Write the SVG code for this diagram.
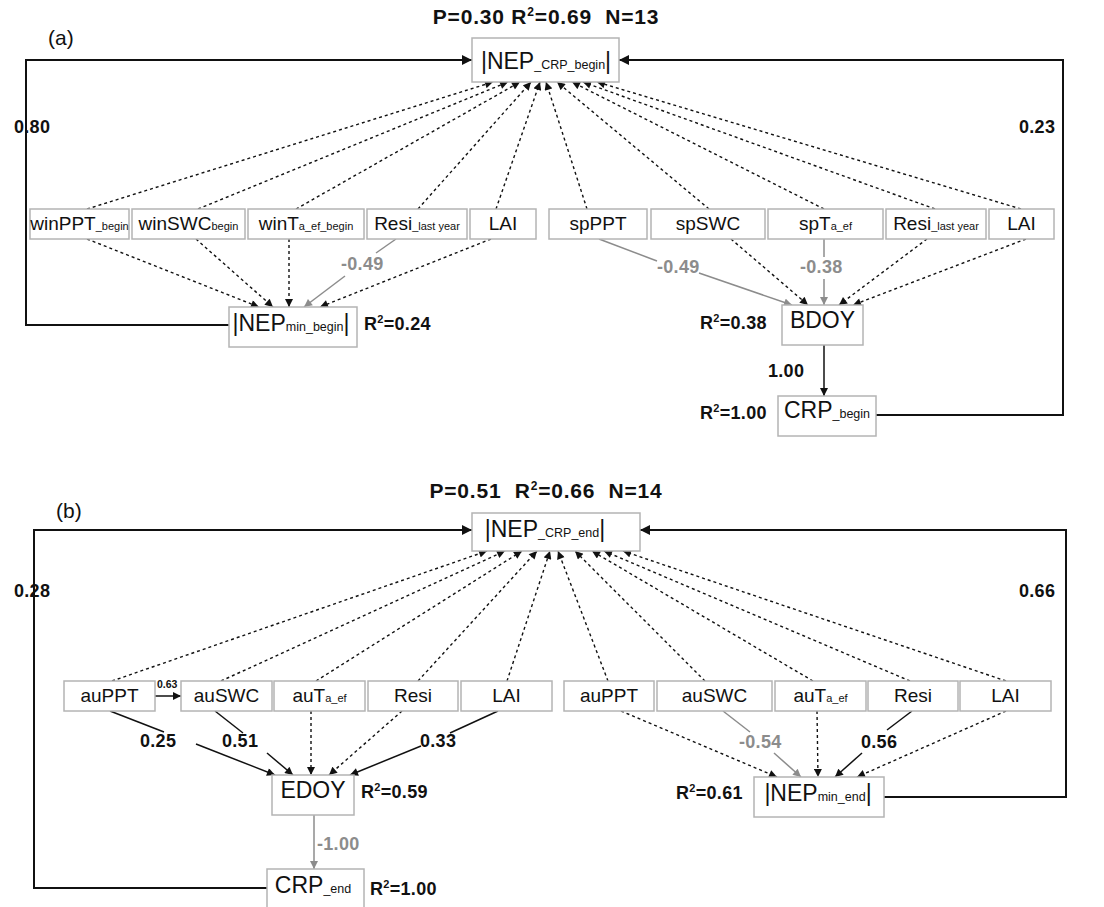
<svg xmlns="http://www.w3.org/2000/svg" width="1104" height="907" viewBox="0 0 1104 907">
<defs>
<style>
text{font-family:"Liberation Sans",Arial,sans-serif;fill:#111}
.box{fill:#fff;stroke:#b4b4b4;stroke-width:1.5}
.bt{font-size:19px}
.big{font-size:23px}
.sub{font-size:11px}
.sub2{font-size:12.5px}
.lbl{font-size:18px;font-weight:bold;letter-spacing:0.3px}
.gl{fill:#8c8c8c}
.title{font-size:21px;font-weight:bold;letter-spacing:0.8px}
.dash{stroke:#111;stroke-width:1.4;stroke-dasharray:3 3;fill:none}
.blk{stroke:#111;stroke-width:1.5;fill:none}
.gry{stroke:#8c8c8c;stroke-width:1.5;fill:none}
.fb{stroke:#111;stroke-width:2;fill:none}
</style>
<marker id="ab" viewBox="0 0 10 10" refX="10" refY="5" markerWidth="9" markerHeight="8" markerUnits="userSpaceOnUse" orient="auto"><path d="M0,0 L10,5 L0,10 z" fill="#111"/></marker>
<marker id="ag" viewBox="0 0 10 10" refX="10" refY="5" markerWidth="10" markerHeight="8" markerUnits="userSpaceOnUse" orient="auto"><path d="M0,0 L10,5 L0,10 z" fill="#8c8c8c"/></marker>
<marker id="af" viewBox="0 0 10 10" refX="10" refY="5" markerWidth="13" markerHeight="10" markerUnits="userSpaceOnUse" orient="auto"><path d="M0,0 L10,5 L0,10 z" fill="#111"/></marker>
</defs>

<!-- ===== Panel (a) ===== -->
<text class="title" x="546" y="24" text-anchor="middle" xml:space="preserve">P=0.30 R<tspan font-size="12" dy="-8">2</tspan><tspan dy="8">=0.69  N=13</tspan></text>
<text x="48" y="45" font-size="21">(a)</text>

<g id="connectors-a">
  <path class="fb" d="M229,325 H26 V60 H472" marker-end="url(#af)"/>
  <path class="fb" d="M876,415 H1063 V60 H619" marker-end="url(#af)"/>
  <line class="dash" x1="87" y1="209" x2="493" y2="82" marker-end="url(#ab)"/>
  <line class="dash" x1="198" y1="209" x2="508" y2="82" marker-end="url(#ab)"/>
  <line class="dash" x1="296" y1="209" x2="520" y2="82" marker-end="url(#ab)"/>
  <line class="dash" x1="418" y1="209" x2="531" y2="82" marker-end="url(#ab)"/>
  <line class="dash" x1="496" y1="209" x2="540" y2="82" marker-end="url(#ab)"/>
  <line class="dash" x1="587" y1="209" x2="546" y2="82" marker-end="url(#ab)"/>
  <line class="dash" x1="709" y1="209" x2="557" y2="82" marker-end="url(#ab)"/>
  <line class="dash" x1="824" y1="209" x2="572" y2="82" marker-end="url(#ab)"/>
  <line class="dash" x1="935" y1="209" x2="583" y2="82" marker-end="url(#ab)"/>
  <line class="dash" x1="1021" y1="209" x2="597" y2="82" marker-end="url(#ab)"/>
  <line class="dash" x1="87" y1="239" x2="259" y2="307" marker-end="url(#ab)"/>
  <line class="dash" x1="196" y1="239" x2="273" y2="307" marker-end="url(#ab)"/>
  <line class="dash" x1="289" y1="239" x2="289" y2="307" marker-end="url(#ab)"/>
  <line class="gry" x1="396" y1="239" x2="376" y2="253"/>
  <line class="gry" x1="345" y1="276" x2="304" y2="307" marker-end="url(#ag)"/>
  <line class="dash" x1="491" y1="239" x2="320" y2="307" marker-end="url(#ab)"/>
  <line class="gry" x1="599" y1="239" x2="657" y2="261"/>
  <line class="gry" x1="699" y1="273" x2="792" y2="305" marker-end="url(#ag)"/>
  <line class="dash" x1="731" y1="239" x2="808" y2="305" marker-end="url(#ab)"/>
  <line class="gry" x1="824" y1="239" x2="824" y2="257"/>
  <line class="gry" x1="824" y1="279" x2="824" y2="305" marker-end="url(#ag)"/>
  <line class="dash" x1="927" y1="239" x2="839" y2="305" marker-end="url(#ab)"/>
  <line class="dash" x1="1026" y1="239" x2="853" y2="305" marker-end="url(#ab)"/>
  <line class="blk" x1="824" y1="345" x2="824" y2="396" marker-end="url(#ab)"/>
  <text class="lbl" x="14" y="133">0.80</text>
  <text class="lbl" x="1019" y="133">0.23</text>
  <text class="lbl gl" x="341" y="270">-0.49</text>
  <text class="lbl gl" x="657" y="273">-0.49</text>
  <text class="lbl gl" x="800" y="273">-0.38</text>
  <text class="lbl" x="768" y="377">1.00</text>
</g>

<g id="nep-crp-begin">
  <rect class="box" x="472" y="38" width="147" height="44"/>
  <text class="big" x="546" y="69" text-anchor="middle">|NEP<tspan class="sub2">_CRP_begin</tspan>|</text>
</g>
<g id="winPPT"><rect class="box" x="30" y="209" width="99" height="30"/><text class="bt" x="79.5" y="230" text-anchor="middle">winPPT<tspan class="sub">_begin</tspan></text></g>
<g id="winSWC"><rect class="box" x="132" y="209" width="113" height="30"/><text class="bt" x="188.5" y="230" text-anchor="middle">winSWC<tspan class="sub">begin</tspan></text></g>
<g id="winT"><rect class="box" x="248" y="209" width="116" height="30"/><text class="bt" x="306" y="230" text-anchor="middle">winT<tspan class="sub">a_ef_begin</tspan></text></g>
<g id="resi-a1"><rect class="box" x="367" y="209" width="100" height="30"/><text class="bt" x="417" y="230" text-anchor="middle">Resi<tspan class="sub">_last year</tspan></text></g>
<g id="lai-a1"><rect class="box" x="470" y="209" width="66" height="30"/><text class="bt" x="503" y="230" text-anchor="middle">LAI</text></g>
<g id="spPPT"><rect class="box" x="549" y="209" width="98" height="30"/><text class="bt" x="598" y="230" text-anchor="middle">spPPT</text></g>
<g id="spSWC"><rect class="box" x="651" y="209" width="114" height="30"/><text class="bt" x="708" y="230" text-anchor="middle">spSWC</text></g>
<g id="spT"><rect class="box" x="768" y="209" width="115" height="30"/><text class="bt" x="825.5" y="230" text-anchor="middle">spT<tspan class="sub">a_ef</tspan></text></g>
<g id="resi-a2"><rect class="box" x="886" y="209" width="100" height="30"/><text class="bt" x="936" y="230" text-anchor="middle">Resi<tspan class="sub">_last year</tspan></text></g>
<g id="lai-a2"><rect class="box" x="989" y="209" width="65" height="30"/><text class="bt" x="1021.5" y="230" text-anchor="middle">LAI</text></g>
<g id="nep-min-begin">
  <rect class="box" x="229" y="307" width="128" height="40"/>
  <text class="big" x="291" y="331" text-anchor="middle">|NEP<tspan class="sub2">min_begin</tspan>|</text>
  <text class="lbl" x="364" y="330">R<tspan font-size="11" dy="-7">2</tspan><tspan dy="7">=0.24</tspan></text>
</g>
<g id="bdoy">
  <rect class="box" x="782" y="305" width="81" height="40"/>
  <text class="big" x="822.5" y="328" text-anchor="middle">BDOY</text>
  <text class="lbl" x="700" y="329">R<tspan font-size="11" dy="-7">2</tspan><tspan dy="7">=0.38</tspan></text>
</g>
<g id="crp-begin">
  <rect class="box" x="778" y="396" width="98" height="40"/>
  <text class="big" x="827" y="418" text-anchor="middle">CRP<tspan class="sub2">_begin</tspan></text>
  <text class="lbl" x="700" y="419">R<tspan font-size="11" dy="-7">2</tspan><tspan dy="7">=1.00</tspan></text>
</g>

<!-- ===== Panel (b) ===== -->
<text class="title" x="546" y="498" text-anchor="middle" xml:space="preserve">P=0.51  R<tspan font-size="12" dy="-8">2</tspan><tspan dy="8">=0.66  N=14</tspan></text>
<text x="56" y="518" font-size="21">(b)</text>

<g id="connectors-b">
  <path class="fb" d="M267,888 H34 V530 H472" marker-end="url(#af)"/>
  <path class="fb" d="M884,797 H1066 V530 H640" marker-end="url(#af)"/>
  <line class="dash" x1="112" y1="681" x2="487" y2="551" marker-end="url(#ab)"/>
  <line class="dash" x1="221" y1="681" x2="505" y2="551" marker-end="url(#ab)"/>
  <line class="dash" x1="316" y1="681" x2="522" y2="551" marker-end="url(#ab)"/>
  <line class="dash" x1="418" y1="681" x2="537" y2="551" marker-end="url(#ab)"/>
  <line class="dash" x1="507" y1="681" x2="550" y2="551" marker-end="url(#ab)"/>
  <line class="dash" x1="608" y1="681" x2="558" y2="551" marker-end="url(#ab)"/>
  <line class="dash" x1="705" y1="681" x2="575" y2="551" marker-end="url(#ab)"/>
  <line class="dash" x1="813" y1="681" x2="592" y2="551" marker-end="url(#ab)"/>
  <line class="dash" x1="910" y1="681" x2="604" y2="551" marker-end="url(#ab)"/>
  <line class="dash" x1="1006" y1="681" x2="623" y2="551" marker-end="url(#ab)"/>
  <line class="blk" x1="155" y1="696" x2="181" y2="696" marker-end="url(#ab)"/>
  <line class="blk" x1="110" y1="711" x2="164" y2="732"/>
  <line class="blk" x1="196" y1="744" x2="275" y2="775" marker-end="url(#ab)"/>
  <line class="blk" x1="215" y1="711" x2="243" y2="733"/>
  <line class="blk" x1="267" y1="753" x2="293" y2="775" marker-end="url(#ab)"/>
  <line class="dash" x1="311" y1="711" x2="311" y2="775" marker-end="url(#ab)"/>
  <line class="dash" x1="402" y1="711" x2="329" y2="775" marker-end="url(#ab)"/>
  <line class="blk" x1="498" y1="711" x2="450" y2="733"/>
  <line class="blk" x1="421" y1="746" x2="350" y2="775" marker-end="url(#ab)"/>
  <line class="gry" x1="314" y1="815" x2="314" y2="869" marker-end="url(#ag)"/>
  <line class="dash" x1="621" y1="711" x2="777" y2="777" marker-end="url(#ab)"/>
  <line class="gry" x1="723" y1="711" x2="750" y2="732"/>
  <line class="gry" x1="774" y1="753" x2="801" y2="777" marker-end="url(#ag)"/>
  <line class="dash" x1="817" y1="711" x2="818" y2="777" marker-end="url(#ab)"/>
  <line class="blk" x1="912" y1="711" x2="887" y2="730"/>
  <line class="blk" x1="862" y1="753" x2="835" y2="777" marker-end="url(#ab)"/>
  <line class="dash" x1="1006" y1="711" x2="857" y2="777" marker-end="url(#ab)"/>
  <text class="lbl" x="14" y="597">0.28</text>
  <text class="lbl" x="1019" y="597">0.66</text>
  <text x="157" y="688" font-size="10.5" font-weight="bold">0.63</text>
  <text class="lbl" x="140" y="747">0.25</text>
  <text class="lbl" x="222" y="747">0.51</text>
  <text class="lbl" x="420" y="747">0.33</text>
  <text class="lbl gl" x="317" y="850">-1.00</text>
  <text class="lbl gl" x="739" y="748">-0.54</text>
  <text class="lbl" x="861" y="748">0.56</text>
</g>

<g id="nep-crp-end">
  <rect class="box" x="472" y="513" width="168" height="38"/>
  <text class="big" x="545" y="537" text-anchor="middle">|NEP<tspan class="sub2">_CRP_end</tspan>|</text>
</g>
<g id="auPPT-1"><rect class="box" x="64" y="681" width="91" height="30"/><text class="bt" x="109.5" y="702" text-anchor="middle">auPPT</text></g>
<g id="auSWC-1"><rect class="box" x="181" y="681" width="91" height="30"/><text class="bt" x="226.5" y="702" text-anchor="middle">auSWC</text></g>
<g id="auT-1"><rect class="box" x="274" y="681" width="91" height="30"/><text class="bt" x="319.5" y="702" text-anchor="middle">auT<tspan class="sub">a_ef</tspan></text></g>
<g id="resi-b1"><rect class="box" x="368" y="681" width="90" height="30"/><text class="bt" x="413" y="702" text-anchor="middle">Resi</text></g>
<g id="lai-b1"><rect class="box" x="461" y="681" width="91" height="30"/><text class="bt" x="506.5" y="702" text-anchor="middle">LAI</text></g>
<g id="auPPT-2"><rect class="box" x="564" y="681" width="90" height="30"/><text class="bt" x="609" y="702" text-anchor="middle">auPPT</text></g>
<g id="auSWC-2"><rect class="box" x="657" y="681" width="115" height="30"/><text class="bt" x="714.5" y="702" text-anchor="middle">auSWC</text></g>
<g id="auT-2"><rect class="box" x="775" y="681" width="91" height="30"/><text class="bt" x="820.5" y="702" text-anchor="middle">auT<tspan class="sub">a_ef</tspan></text></g>
<g id="resi-b2"><rect class="box" x="868" y="681" width="90" height="30"/><text class="bt" x="913" y="702" text-anchor="middle">Resi</text></g>
<g id="lai-b2"><rect class="box" x="960" y="681" width="91" height="30"/><text class="bt" x="1005.5" y="702" text-anchor="middle">LAI</text></g>
<g id="edoy">
  <rect class="box" x="272" y="775" width="82" height="40"/>
  <text class="big" x="313" y="798" text-anchor="middle">EDOY</text>
  <text class="lbl" x="361" y="798">R<tspan font-size="11" dy="-7">2</tspan><tspan dy="7">=0.59</tspan></text>
</g>
<g id="crp-end">
  <rect class="box" x="267" y="869" width="97" height="42"/>
  <text class="big" x="313" y="893" text-anchor="middle">CRP<tspan class="sub2">_end</tspan></text>
  <text class="lbl" x="370" y="895">R<tspan font-size="11" dy="-7">2</tspan><tspan dy="7">=1.00</tspan></text>
</g>
<g id="nep-min-end">
  <rect class="box" x="754" y="777" width="130" height="40"/>
  <text class="big" x="818" y="801" text-anchor="middle">|NEP<tspan class="sub2">min_end</tspan>|</text>
  <text class="lbl" x="676" y="799">R<tspan font-size="11" dy="-7">2</tspan><tspan dy="7">=0.61</tspan></text>
</g>
</svg>
